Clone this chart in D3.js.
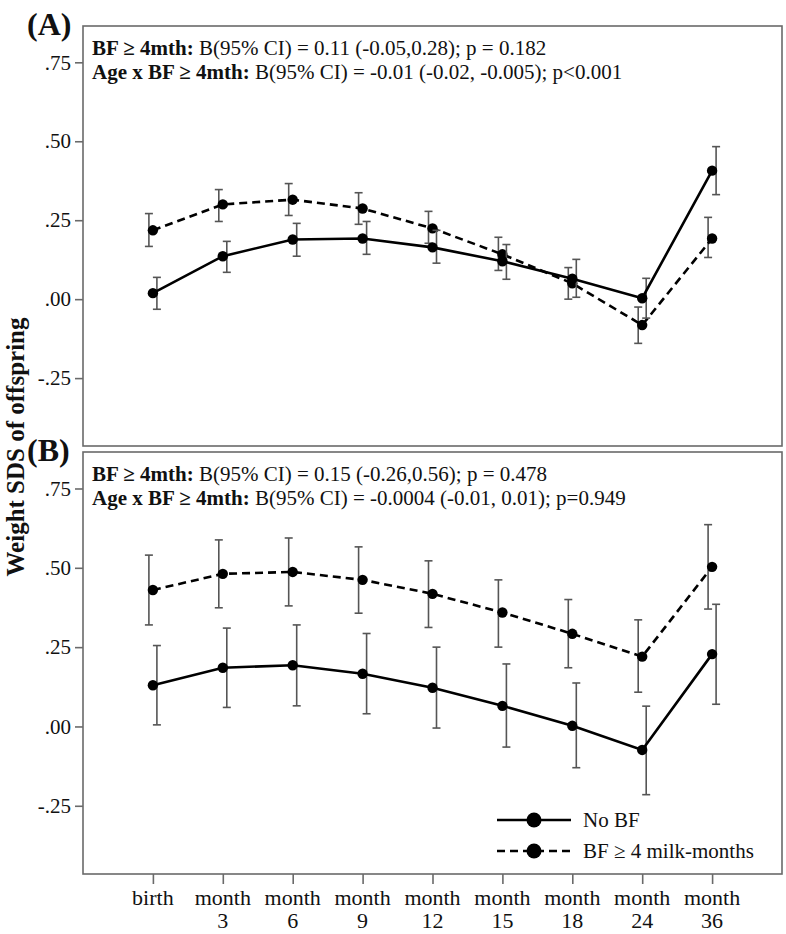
<!DOCTYPE html>
<html>
<head>
<meta charset="utf-8">
<script src="https://cdn.jsdelivr.net/npm/d3@7"></script>
<style>
  html, body { margin: 0; padding: 0; background: #fff; }
  svg { display: block; }
  svg text { font-family: "Liberation Serif", "Times New Roman", Times, "DejaVu Serif", serif !important; }
</style>
</head>
<body>
<svg id="chart" width="786" height="934"></svg>
<script>
// ---------------- DATA ----------------
const categories = ["birth", "month 3", "month 6", "month 9", "month 12", "month 15", "month 18", "month 24", "month 36"];
const yTicks = [-0.25, 0, 0.25, 0.5, 0.75];
const seriesNames = ["No BF", "BF \u2265 4 milk-months"];

// Panel A
const aNoBF    = [0.019, 0.136, 0.189, 0.192, 0.164, 0.120, 0.065, 0.003, 0.407];
const aNoBFLo  = [-0.032, 0.085, 0.136, 0.142, 0.114, 0.063, 0.006, -0.060, 0.331];
const aNoBFHi  = [0.069, 0.183, 0.240, 0.246, 0.218, 0.173, 0.126, 0.066, 0.483];
const aBF      = [0.218, 0.300, 0.315, 0.287, 0.224, 0.142, 0.050, -0.082, 0.192];
const aBFLo    = [0.167, 0.246, 0.265, 0.237, 0.177, 0.091, 0.000, -0.140, 0.132];
const aBFHi    = [0.271, 0.347, 0.366, 0.337, 0.278, 0.196, 0.100, -0.025, 0.259];

// Panel B
const bNoBF    = [0.130, 0.185, 0.193, 0.166, 0.122, 0.065, 0.002, -0.074, 0.228];
const bNoBFLo  = [0.005, 0.060, 0.065, 0.040, -0.005, -0.065, -0.130, -0.215, 0.070];
const bNoBFHi  = [0.255, 0.310, 0.320, 0.293, 0.250, 0.197, 0.137, 0.064, 0.385];
const bBF      = [0.430, 0.481, 0.487, 0.462, 0.418, 0.359, 0.292, 0.220, 0.503];
const bBFLo    = [0.320, 0.374, 0.380, 0.357, 0.312, 0.250, 0.185, 0.108, 0.370];
const bBFHi    = [0.540, 0.588, 0.594, 0.566, 0.522, 0.462, 0.400, 0.336, 0.636];

const annotA = [
  ["BF \u2265 4mth:", " B(95% CI) = 0.11 (-0.05,0.28); p = 0.182"],
  ["Age x BF \u2265 4mth:", " B(95% CI) = -0.01 (-0.02, -0.005); p<0.001"]
];
const annotB = [
  ["BF \u2265 4mth:", " B(95% CI) = 0.15 (-0.26,0.56); p = 0.478"],
  ["Age x BF \u2265 4mth:", " B(95% CI) = -0.0004 (-0.01, 0.01); p=0.949"]
];

// ---------------- LAYOUT ----------------
const svg = d3.select("#chart");
const left = 83, right = 782;
const panels = [
  { label: "(A)", top: 26, bottom: 446, noBF: aNoBF, noLo: aNoBFLo, noHi: aNoBFHi, bf: aBF, bfLo: aBFLo, bfHi: aBFHi, annot: annotA, xAxis: false, legend: false },
  { label: "(B)", top: 452, bottom: 874, noBF: bNoBF, noLo: bNoBFLo, noHi: bNoBFHi, bf: bBF, bfLo: bBFLo, bfHi: bBFHi, annot: annotB, xAxis: true, legend: true }
];

const x = d3.scalePoint().domain(categories).range([left, right]).padding(1);
const borderColor = "#6a6a6a";
const barColor = "#555";
const fmt = v => {
  const s = Math.abs(v).toFixed(2).replace(/^0\./, ".");
  return (v < 0 ? "-" : "") + s;
};

panels.forEach(p => {
  const y = d3.scaleLinear().domain([-0.465, 0.865]).range([p.bottom, p.top]);
  const g = svg.append("g");

  // frame
  g.append("rect").attr("x", left).attr("y", p.top).attr("width", right - left).attr("height", p.bottom - p.top)
    .attr("fill", "none").attr("stroke", borderColor).attr("stroke-width", 1.6);

  // y axis
  const yAxis = d3.axisLeft(y).tickValues(yTicks).tickFormat(fmt).tickSize(8).tickPadding(4);
  const ya = g.append("g").attr("transform", `translate(${left},0)`).call(yAxis);
  ya.select(".domain").remove();
  ya.selectAll("line").attr("stroke", borderColor).attr("stroke-width", 1.6);
  ya.selectAll("text").attr("font-size", 21).attr("fill", "#111");

  // x axis
  if (p.xAxis) {
    const xAxis = d3.axisBottom(x).tickSize(10).tickFormat("");
    const xa = g.append("g").attr("transform", `translate(0,${p.bottom})`).call(xAxis);
    xa.select(".domain").remove();
    xa.selectAll("line").attr("stroke", borderColor).attr("stroke-width", 1.6);
    categories.forEach(c => {
      const parts = c.split(" ");
      const t = g.append("text").attr("x", x(c)).attr("y", p.bottom + 31)
        .attr("text-anchor", "middle").attr("font-size", 22).attr("fill", "#111");
      parts.forEach((s, i) => t.append("tspan").attr("x", x(c)).attr("dy", i === 0 ? 0 : 23).text(s));
    });
  }

  // panel label
  svg.append("text").attr("x", 27).attr("y", p.top + 9).attr("font-size", 32).attr("font-weight", "bold")
    .attr("fill", "#111").text(p.label);

  // annotation
  p.annot.forEach((line, i) => {
    const t = g.append("text").attr("x", 92).attr("y", p.top + 29 + i * 24).attr("font-size", 21).attr("fill", "#111");
    t.append("tspan").attr("font-weight", "bold").text(line[0]);
    t.append("tspan").text(line[1]);
  });

  // series
  const series = [
    { vals: p.bf, lo: p.bfLo, hi: p.bfHi, dash: "8,5", off: -4 },
    { vals: p.noBF, lo: p.noLo, hi: p.noHi, dash: null, off: 4 }
  ];
  series.forEach(s => {
    const pts = categories.map((c, i) => ({ c, v: s.vals[i], lo: s.lo[i], hi: s.hi[i] }));
    const eb = g.append("g");
    pts.forEach(d => {
      const xe = x(d.c) + s.off;
      eb.append("line").attr("x1", xe).attr("x2", xe).attr("y1", y(d.lo)).attr("y2", y(d.hi))
        .attr("stroke", barColor).attr("stroke-width", 1.6);
      [d.lo, d.hi].forEach(v => eb.append("line").attr("x1", xe - 4).attr("x2", xe + 4).attr("y1", y(v)).attr("y2", y(v))
        .attr("stroke", barColor).attr("stroke-width", 1.6));
    });
    const line = d3.line().x(d => x(d.c)).y(d => y(d.v));
    g.append("path").datum(pts).attr("d", line).attr("fill", "none").attr("stroke", "#000")
      .attr("stroke-width", 2.6).attr("stroke-dasharray", s.dash);
    g.selectAll(null).data(pts).enter().append("circle")
      .attr("cx", d => x(d.c)).attr("cy", d => y(d.v)).attr("r", 5.2).attr("fill", "#000");
  });

  // legend
  if (p.legend) {
    const lg = g.append("g");
    const rows = [{ name: seriesNames[0], dash: null, yy: 820 }, { name: seriesNames[1], dash: "8,5", yy: 851 }];
    rows.forEach(r => {
      lg.append("line").attr("x1", 497).attr("x2", 571).attr("y1", r.yy).attr("y2", r.yy)
        .attr("stroke", "#000").attr("stroke-width", 2.6).attr("stroke-dasharray", r.dash);
      lg.append("circle").attr("cx", 534).attr("cy", r.yy).attr("r", 7.5).attr("fill", "#000");
      lg.append("text").attr("x", 583).attr("y", r.yy + 7).attr("font-size", 21).attr("fill", "#111").text(r.name);
    });
  }
});

// y axis title
svg.append("text").attr("transform", "translate(24,447) rotate(-90)").attr("text-anchor", "middle")
  .attr("font-size", 25).attr("font-weight", "bold").attr("fill", "#111").text("Weight SDS of offspring");
</script>
</body>
</html>
